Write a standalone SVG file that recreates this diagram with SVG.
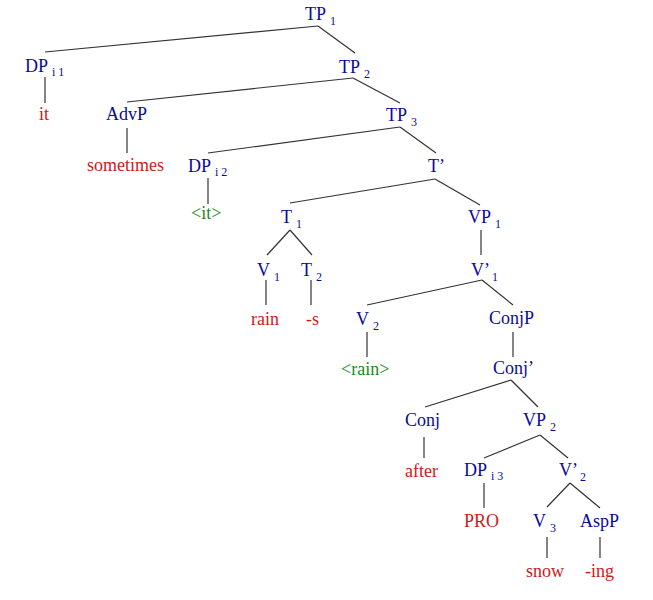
<svg xmlns="http://www.w3.org/2000/svg" width="653" height="600" viewBox="0 0 653 600">
<style>
text{font-family:"Liberation Serif","Times New Roman",serif;font-size:18px}
.n{fill:#0a0a9c}
.w{fill:#cc1a1a}
.g{fill:#1a8a1a}
.s{font-size:12px}
#edges line{stroke:#333;stroke-width:1.2}
</style>
<rect width="653" height="600" fill="#fff"/>
<g id="edges">
<line x1="318" y1="26" x2="45" y2="52"/>
<line x1="318" y1="26" x2="355" y2="53"/>
<line x1="45" y1="77" x2="45" y2="103"/>
<line x1="353" y1="78" x2="127" y2="102"/>
<line x1="353" y1="78" x2="400" y2="103"/>
<line x1="127" y1="128" x2="127" y2="153"/>
<line x1="400" y1="127" x2="208" y2="153"/>
<line x1="400" y1="127" x2="436" y2="153"/>
<line x1="208" y1="178" x2="208" y2="204"/>
<line x1="435" y1="179" x2="290" y2="203"/>
<line x1="435" y1="179" x2="480" y2="205"/>
<line x1="290" y1="230" x2="267" y2="255"/>
<line x1="290" y1="230" x2="312" y2="255"/>
<line x1="266" y1="280" x2="266" y2="305"/>
<line x1="311" y1="280" x2="311" y2="305"/>
<line x1="481" y1="230" x2="481" y2="255"/>
<line x1="482" y1="280" x2="367" y2="305"/>
<line x1="482" y1="280" x2="513" y2="305"/>
<line x1="367" y1="332" x2="367" y2="357"/>
<line x1="513" y1="332" x2="513" y2="357"/>
<line x1="511" y1="380" x2="425" y2="407"/>
<line x1="511" y1="380" x2="538" y2="407"/>
<line x1="424" y1="437" x2="424" y2="458"/>
<line x1="540" y1="435" x2="484" y2="458"/>
<line x1="540" y1="435" x2="568" y2="458"/>
<line x1="484" y1="483" x2="484" y2="508"/>
<line x1="570" y1="483" x2="547" y2="507"/>
<line x1="570" y1="483" x2="600" y2="508"/>
<line x1="547" y1="537" x2="547" y2="558"/>
<line x1="600" y1="537" x2="600" y2="558"/>
</g>
<g id="TP1"><text class="n" x="305" y="20">TP<tspan class="s" dx="4" dy="5">1</tspan></text></g>
<g id="DPi1"><text class="n" x="25" y="72">DP<tspan class="s" dx="4" dy="4">i 1</tspan></text></g>
<g id="it"><text class="w" x="39" y="120">it</text></g>
<g id="TP2"><text class="n" x="339" y="73">TP<tspan class="s" dx="4" dy="5">2</tspan></text></g>
<g id="AdvP"><text class="n" x="106" y="120">AdvP</text></g>
<g id="sometimes"><text class="w" x="87" y="171">sometimes</text></g>
<g id="TP3"><text class="n" x="386" y="121">TP<tspan class="s" dx="4" dy="5">3</tspan></text></g>
<g id="DPi2"><text class="n" x="188" y="172">DP<tspan class="s" dx="4" dy="4">i 2</tspan></text></g>
<g id="it2"><text class="g" x="191" y="219">&lt;it&gt;</text></g>
<g id="Tbar"><text class="n" x="428" y="172">T’</text></g>
<g id="T1"><text class="n" x="281" y="223">T<tspan class="s" dx="4" dy="5">1</tspan></text></g>
<g id="VP1"><text class="n" x="468" y="223">VP<tspan class="s" dx="4" dy="5">1</tspan></text></g>
<g id="V1"><text class="n" x="257" y="276">V<tspan class="s" dx="4" dy="5">1</tspan></text></g>
<g id="T2"><text class="n" x="301" y="276">T<tspan class="s" dx="4" dy="5">2</tspan></text></g>
<g id="Vbar1"><text class="n" x="471" y="276">V’<tspan class="s" dx="2" dy="5">1</tspan></text></g>
<g id="rain"><text class="w" x="251" y="325">rain</text></g>
<g id="s"><text class="w" x="306" y="325">-s</text></g>
<g id="V2"><text class="n" x="356" y="325">V<tspan class="s" dx="4" dy="5">2</tspan></text></g>
<g id="ConjP"><text class="n" x="489" y="324">ConjP</text></g>
<g id="rain2"><text class="g" x="341" y="375">&lt;rain&gt;</text></g>
<g id="Conjbar"><text class="n" x="493" y="374">Conj’</text></g>
<g id="Conj"><text class="n" x="405" y="426">Conj</text></g>
<g id="VP2"><text class="n" x="523" y="426">VP<tspan class="s" dx="4" dy="5">2</tspan></text></g>
<g id="after"><text class="w" x="405" y="477">after</text></g>
<g id="DPi3"><text class="n" x="464" y="476">DP<tspan class="s" dx="4" dy="4">i 3</tspan></text></g>
<g id="Vbar2"><text class="n" x="559" y="476">V’<tspan class="s" dx="2" dy="5">2</tspan></text></g>
<g id="PRO"><text class="w" x="464" y="527">PRO</text></g>
<g id="V3"><text class="n" x="533" y="527">V<tspan class="s" dx="4" dy="5">3</tspan></text></g>
<g id="AspP"><text class="n" x="580" y="527">AspP</text></g>
<g id="snow"><text class="w" x="526" y="577">snow</text></g>
<g id="ing"><text class="w" x="585" y="577">-ing</text></g>
</svg>
